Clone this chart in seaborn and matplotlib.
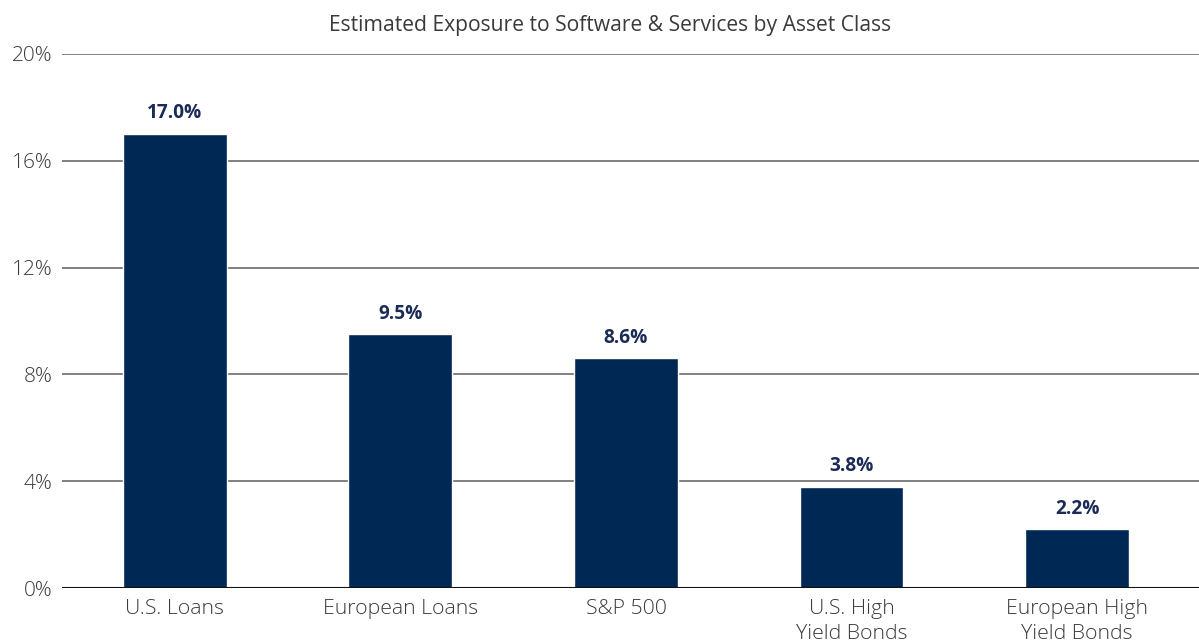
import pandas as pd
import seaborn as sns
from matplotlib import pyplot as plt
from matplotlib.ticker import FuncFormatter

categories = ["U.S. Loans", "European Loans", "S&P 500", "U.S. High\nYield Bonds", "European High\nYield Bonds"]
exposure = [17.0, 9.5, 8.6, 3.8, 2.2]

bar_color = "#002855"
text_color = "#3a3a3a"

sns.set_style("white")
plt.rcParams["font.family"] = ["Open Sans", "DejaVu Sans"]

df = pd.DataFrame({"asset_class": categories, "exposure": exposure})

fig = plt.figure(figsize=(11.99, 6.42), dpi=100)
ax = fig.add_axes([0.0517, 0.0841, 0.9483, 0.8318])

sns.barplot(data=df, x="asset_class", y="exposure", color=bar_color,
            width=0.46, saturation=1, ax=ax, zorder=3)

for i, v in enumerate(exposure):
    ax.text(i, v + 0.4, f"{v:.1f}%", ha="center", va="bottom",
            fontsize=13.7, fontweight="bold", color="#1a2b55")

ax.set_ylim(0, 20)
ax.set_xlim(-0.5, 4.54)
ax.set_yticks([0, 4, 8, 12, 16, 20])
ax.yaxis.set_major_formatter(FuncFormatter(lambda v, _: f"{v:.0f}%"))
ax.grid(axis="y", color="#6b6b6b", linewidth=1.2, zorder=0)
ax.axhline(0, color="#111111", linewidth=1.5, zorder=4)

for s in ax.spines.values():
    s.set_visible(False)

ax.tick_params(axis="x", length=0, labelsize=15.3, colors=text_color, pad=8)
ax.tick_params(axis="y", length=0, labelsize=15, colors=text_color, pad=7)
for lbl in ax.get_xticklabels() + ax.get_yticklabels():
    lbl.set_fontweight("light")
    lbl.set_linespacing(1.3)
ax.set_xlabel("")
ax.set_ylabel("")

fig.text(0.509, 0.96, "Estimated Exposure to Software & Services by Asset Class",
         ha="center", va="center", fontsize=15.2, color=text_color)

fig.savefig("out.png", dpi=100)
